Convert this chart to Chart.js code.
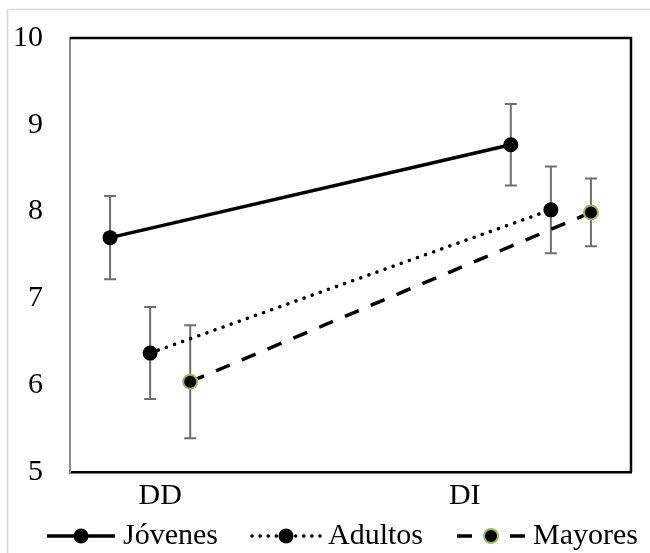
<!DOCTYPE html>
<html>
<head>
<meta charset="utf-8">
<script src="https://cdn.jsdelivr.net/npm/chart.js@4.4.1/dist/chart.umd.min.js"></script>
<style>
  body { margin: 0; background: #fff; }
  canvas { display: block; }
</style>
</head>
<body>
<canvas id="chart" width="650" height="553"></canvas>
<script>
// categories and where their labels sit on the x scale
const categories = ['DD', 'DI'];
const categoryX = [2.25, 9.85];
const yTicks = [5, 6, 7, 8, 9, 10];

const seriesNames = ['Jóvenes', 'Adultos', 'Mayores'];

const jovenesX = [1, 11];
const jovenesY = [7.70, 8.77];
const jovenesErr = [0.48, 0.47];

const adultosX = [2, 12];
const adultosY = [6.37, 8.02];
const adultosErr = [0.53, 0.50];

const mayoresX = [3, 13];
const mayoresY = [6.04, 7.99];
const mayoresErr = [0.65, 0.39];

const serif = "'Times New Roman', 'Liberation Serif', serif";
Chart.defaults.font.family = serif;
Chart.defaults.color = '#000';

const legendBox = 89;   // pointStyleWidth
const legendShift = -5; // fine tune of the legend row

function toPoints(xs, ys) {
    return xs.map((x, i) => ({ x: x, y: ys[i] }));
}

// legend symbol: line with the marker in the middle, ending just before the text
function legendImage(ds) {
    const w = legendBox + 18, h = 20, lineLen = 72;
    const x0 = w - lineLen, mid = x0 + lineLen / 2;
    const c = document.createElement('canvas');
    c.width = w;
    c.height = h;
    const g = c.getContext('2d');
    g.strokeStyle = '#000';
    g.lineWidth = ds.borderWidth;
    g.lineCap = ds.borderCapStyle || 'butt';
    g.setLineDash(ds.legendDash || []);
    g.beginPath();
    g.moveTo(x0 + 2, h / 2);
    g.lineTo(mid, h / 2);
    g.moveTo(w - 2, h / 2);
    g.lineTo(mid, h / 2);
    g.stroke();
    g.setLineDash([]);
    g.beginPath();
    g.arc(mid, h / 2, ds.pointRadius, 0, Math.PI * 2);
    g.fillStyle = ds.pointBackgroundColor;
    g.fill();
    if (ds.pointBorderWidth) {
        g.lineWidth = ds.pointBorderWidth;
        g.strokeStyle = ds.pointBorderColor;
        g.stroke();
    }
    return c;
}

const errorBars = {
    id: 'errorBars',
    beforeDatasetsDraw(chart) {
        const ctx = chart.ctx;
        const xs = chart.scales.x, ys = chart.scales.y;
        ctx.save();
        ctx.strokeStyle = '#6e6e6e';
        ctx.lineWidth = 2;
        chart.data.datasets.forEach(ds => {
            ds.data.forEach((p, i) => {
                const px = xs.getPixelForValue(p.x);
                const top = ys.getPixelForValue(p.y + ds.errors[i]);
                const bot = ys.getPixelForValue(p.y - ds.errors[i]);
                ctx.beginPath();
                ctx.moveTo(px, top);
                ctx.lineTo(px, bot);
                ctx.moveTo(px - 6, top);
                ctx.lineTo(px + 6, top);
                ctx.moveTo(px - 6, bot);
                ctx.lineTo(px + 6, bot);
                ctx.stroke();
            });
        });
        ctx.restore();
    }
};

const frame = {
    id: 'frame',
    afterLayout(chart) {
        chart.legend.top += legendShift;
        chart.legend.bottom += legendShift;
    },
    beforeDraw(chart) {
        const ctx = chart.ctx;
        ctx.save();
        ctx.fillStyle = '#fff';
        ctx.fillRect(0, 0, chart.width, chart.height);
        ctx.strokeStyle = '#d9d9d9';
        ctx.lineWidth = 1.5;
        ctx.strokeRect(7.5, 9.5, chart.width, chart.height);
        ctx.restore();
    },
    beforeDatasetsDraw(chart) {
        const a = chart.chartArea;
        const ctx = chart.ctx;
        ctx.save();
        ctx.strokeStyle = '#000';
        ctx.lineWidth = 2.5;
        ctx.beginPath();
        ctx.moveTo(a.left, a.top);
        ctx.lineTo(a.right, a.top);
        ctx.lineTo(a.right, a.bottom);
        ctx.stroke();
        ctx.restore();
    }
};

const data = {
    datasets: [{
            label: seriesNames[0],
            data: toPoints(jovenesX, jovenesY),
            errors: jovenesErr,
            borderColor: '#000',
            borderWidth: 3.5,
            pointRadius: 7.5,
            pointBackgroundColor: '#000',
            pointBorderColor: '#000',
            pointBorderWidth: 0
        }, {
            label: seriesNames[1],
            data: toPoints(adultosX, adultosY),
            errors: adultosErr,
            borderColor: '#000',
            borderWidth: 3.5,
            borderDash: [0.1, 8.5],
            legendDash: [0.1, 8],
            borderCapStyle: 'round',
            pointRadius: 7.5,
            pointBackgroundColor: '#000',
            pointBorderColor: '#000',
            pointBorderWidth: 0
        }, {
            label: seriesNames[2],
            data: toPoints(mayoresX, mayoresY),
            errors: mayoresErr,
            borderColor: '#000',
            borderWidth: 3.5,
            borderDash: [15, 13],
            legendDash: [15, 40],
            pointRadius: 7,
            pointBackgroundColor: '#000',
            pointBorderColor: '#9bbb59',
            pointBorderWidth: 2
        }]
};

const config = {
    type: 'scatter',
    data: data,
    options: {
        responsive: false,
        animation: false,
        showLine: true,
        layout: { padding: { left: 13, right: 0, top: 38, bottom: -13 } },
        scales: {
            x: {
                type: 'linear',
                min: 0,
                max: 14,
                grid: { display: false, drawTicks: false },
                border: { color: '#000', width: 2.5 },
                ticks: {
                    font: { size: 30 },
                    color: '#000',
                    padding: 6,
                    maxRotation: 0,
                    autoSkip: false,
                    callback: function (v, i) { return categories[i]; }
                },
                afterBuildTicks: s => { s.ticks = categoryX.map(v => ({ value: v })); }
            },
            y: {
                min: 5,
                max: 10,
                grid: { display: false, drawTicks: false },
                border: { color: '#8c8c8c', width: 2 },
                ticks: { font: { size: 30 }, color: '#000', padding: 27 },
                afterBuildTicks: s => { s.ticks = yTicks.map(v => ({ value: v })); },
                afterFit: s => {
                    s.width = 57;
                    s.paddingTop = 0;
                    s.paddingBottom = 0;
                }
            },
            // empty strip on the right so the plot ends where the reference does
            yRight: {
                position: 'right',
                display: true,
                grid: { display: false, drawTicks: false },
                border: { display: false },
                ticks: { display: false },
                afterFit: s => { s.width = 19; }
            }
        },
        plugins: {
            tooltip: { enabled: false },
            legend: {
                position: 'bottom',
                align: 'start',
                labels: {
                    usePointStyle: true,
                    pointStyleWidth: legendBox,
                    padding: 6,
                    color: '#000',
                    font: { size: 30 },
                    generateLabels: chart => chart.data.datasets.map((ds, i) => ({
                        text: ds.label,
                        pointStyle: legendImage(ds),
                        datasetIndex: i,
                        hidden: false,
                        fontColor: '#000',
                        lineWidth: 0
                    }))
                }
            }
        }
    },
    plugins: [frame, errorBars]
};

let ctx = document.getElementById('chart').getContext('2d');
new Chart(ctx, config);
</script>
</body>
</html>
